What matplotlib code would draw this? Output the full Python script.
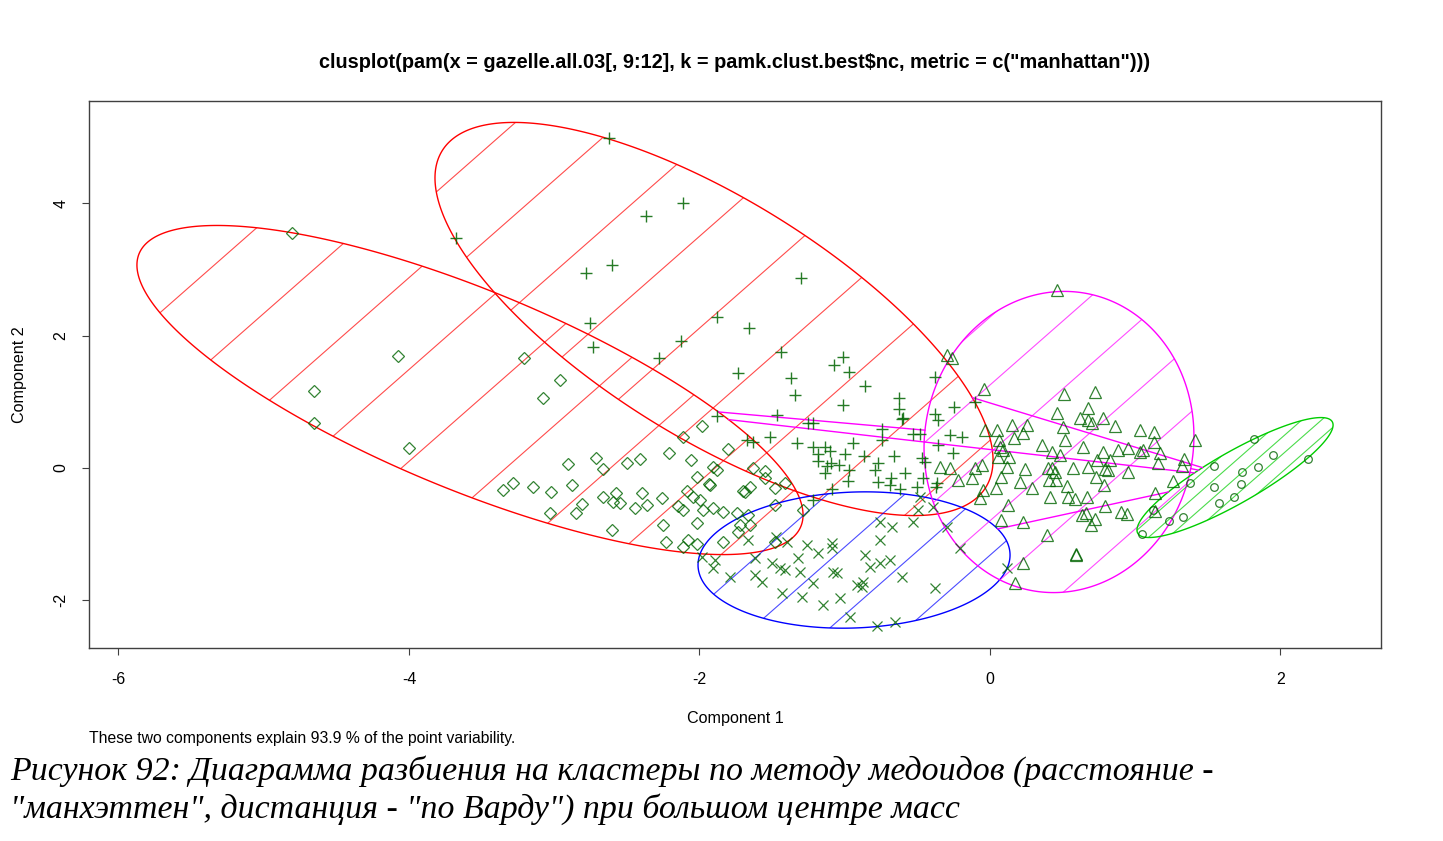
import numpy as np
import matplotlib
matplotlib.use("Agg")
import matplotlib.pyplot as plt
from matplotlib.patches import Polygon

plt.rcParams['font.family'] = ['Liberation Sans', 'DejaVu Sans']
plt.rcParams['axes.unicode_minus'] = False

# cluster ellipses: centre and two conjugate half-axis vectors (data units)
ell_cx = [-3.580, -1.900, -0.936, 0.475, 1.687]
ell_cy = [1.178, 2.251, -1.390, 0.393, -0.144]
ell_ax = [-2.293, -1.921, -1.074, -0.929, -0.675]
ell_ay = [1.888, 2.130, -0.075, -0.091, -0.793]
ell_bx = [0.0, 0.0, 0.0, 0.0, 0.0]
ell_by = [1.617, 2.069, 1.027, 2.273, 0.438]
ell_col = ['#FF0000', '#FF0000', '#0000FF', '#FF00FF', '#00CD00']
hatch_gap = [69, 69, 51, 51, 13]  # pixels between shading lines

# points, cluster 1 (diamonds)
diam_x = [-4.806, -4.654, -4.654, -4.076, -4.000, -3.208, -2.960, -3.077, -1.983, -2.114,
          -2.210, -1.804, -2.059, -1.907, -1.880, -2.905, -2.713, -2.664, -2.499, -2.410,
          -2.017, -1.935, -1.632, -1.549, -1.549, -1.411, -3.353, -3.284, -3.146, -3.022,
          -2.878, -2.664, -2.575, -2.547, -2.396, -3.029, -2.850, -2.809, -2.444, -2.361,
          -2.258, -2.086, -2.045, -1.997, -1.701, -1.652, -2.148, -2.114, -1.976, -1.907,
          -1.838, -2.596, -2.602, -2.251, -2.017, -1.742, -1.721, -1.652, -1.735, -1.838,
          -2.231, -2.079, -2.114, -2.017, -1.928, -1.687, -1.480, -1.480, -1.287, -1.666,
          -1.480]
diam_y = [3.550, 1.163, 0.680, 1.692, 0.302, 1.662, 1.329, 1.057, 0.634, 0.468,
          0.227, 0.287, 0.121, 0.015, -0.030, 0.060, 0.151, -0.015, 0.076, 0.136,
          -0.136, -0.242, 0.000, -0.045, -0.151, -0.227, -0.332, -0.227, -0.287, -0.363,
          -0.257, -0.438, -0.378, -0.529, -0.378, -0.680, -0.680, -0.544, -0.604, -0.559,
          -0.453, -0.347, -0.438, -0.483, -0.347, -0.287, -0.574, -0.634, -0.634, -0.604,
          -0.665, -0.514, -0.937, -0.861, -0.831, -0.680, -0.861, -0.861, -0.967, -1.118,
          -1.118, -1.088, -1.193, -1.148, -0.257, -0.363, -0.302, -0.559, -0.634, -0.710,
          -1.118]

# cluster 2 (plus)
plus_x = [-2.623, -3.676, -2.368, -2.114, -2.781, -2.602, -1.301, -2.754, -2.733, -1.880,
          -1.659, -2.127, -2.279, -1.439, -1.735, -1.370, -1.342, -1.012, -1.074, -0.971,
          -0.861, -1.012, -0.627, -0.627, -0.606, -0.379, -0.248, -0.103, -0.379, -0.358,
          -1.880, -1.466, -1.253, -1.219, -0.744, -0.744, -0.530, -0.482, -1.673, -1.632,
          -1.515, -1.329, -1.219, -1.136, -1.102, -0.943, -0.998, -0.867, -0.661, -0.358,
          -0.275, -0.193, -1.184, -1.184, -1.095, -1.040, -1.122, -1.136, -0.971, -0.978,
          -0.792, -0.771, -0.771, -0.682, -0.688, -0.585, -0.620, -0.503, -0.468, -0.448,
          -0.372, -0.365, -0.255, -1.088, -1.219, -0.599, -0.461]
plus_y = [4.985, 3.474, 3.807, 4.003, 2.946, 3.066, 2.870, 2.190, 1.828, 2.281,
          2.115, 1.918, 1.662, 1.752, 1.435, 1.360, 1.103, 1.677, 1.556, 1.450,
          1.239, 0.952, 1.057, 0.891, 0.740, 1.375, 0.921, 0.997, 0.816, 0.725,
          0.785, 0.801, 0.680, 0.680, 0.589, 0.423, 0.514, 0.514, 0.423, 0.393,
          0.468, 0.378, 0.317, 0.317, 0.257, 0.378, 0.211, 0.181, 0.181, 0.347,
          0.498, 0.468, 0.211, 0.106, 0.076, 0.045, 0.030, -0.076, -0.030, -0.196,
          -0.030, 0.076, -0.211, -0.151, -0.257, -0.076, -0.317, -0.287, 0.151, 0.091,
          -0.287, -0.227, 0.227, -0.317, -0.483, 0.755, -0.151]

# cluster 3 (x)
cross_x = [-1.983, -1.893, -1.907, -1.790, -1.666, -1.618, -1.618, -1.570, -1.501, -1.446,
           -1.411, -1.398, -1.260, -1.322, -1.308, -1.184, -1.088, -1.088, -1.081, -1.053,
           -1.219, -1.432, -1.294, -1.150, -1.033, -0.964, -0.916, -0.874, -0.881, -0.861,
           -0.826, -0.757, -0.688, -0.757, -0.757, -0.675, -0.606, -0.778, -0.654, -0.379,
           -0.207, -0.296, -0.496, -0.392, -0.530, -0.482, 0.117, -1.473]
cross_y = [-1.344, -1.390, -1.511, -1.647, -1.088, -1.360, -1.616, -1.722, -1.435, -1.511,
           -1.541, -1.118, -1.163, -1.360, -1.571, -1.284, -1.133, -1.208, -1.571, -1.586,
           -1.737, -1.888, -1.949, -2.069, -1.964, -2.251, -1.767, -1.722, -1.798, -1.314,
           -1.495, -1.435, -1.390, -1.088, -0.816, -0.891, -1.647, -2.387, -2.326, -1.813,
           -1.208, -0.891, -0.634, -0.589, -0.816, -0.438, -1.511, -1.042]

# cluster 4 (triangles)
tri_x = [0.461, -0.296, -0.262, -0.041, 0.509, 0.723, 0.675, 0.461, 0.620, 0.675,
         0.702, 0.778, 0.861, 1.033, 1.129, 1.129, 1.411, 0.503, -0.034, 0.048,
         0.151, 0.255, 0.227, 0.165, 0.062, 0.069, 0.090, 0.131, 0.055, 0.117,
         0.241, 0.207, 0.289, 0.358, 0.427, 0.482, 0.516, 0.640, 0.778, 0.881,
         0.950, 1.033, 1.053, 1.170, 1.157, 1.336, 1.322, 0.571, 0.675, 0.737,
         0.826, 0.792, 0.812, 0.730, 0.950, 0.427, 0.448, 0.406, 0.454, 0.530,
         0.785, 0.413, 0.537, 0.585, 0.668, 0.124, 0.792, 0.902, 0.943, 0.633,
         0.661, 0.723, 0.695, 1.136, 1.136, 1.260, 0.076, 0.227, 0.392, 0.592,
         0.592, 0.227, 0.172, -0.103, -0.055, -0.124, -0.048, -0.069, 0.041, 0.076,
         -0.344, -0.275, -0.220, 0.399]
tri_y = [2.689, 1.707, 1.662, 1.193, 1.118, 1.148, 0.906, 0.831, 0.755, 0.725,
         0.680, 0.755, 0.634, 0.574, 0.544, 0.393, 0.423, 0.619, 0.574, 0.574,
         0.650, 0.650, 0.529, 0.453, 0.423, 0.317, 0.272, 0.166, 0.166, 0.015,
         -0.015, -0.211, -0.302, 0.347, 0.242, 0.196, 0.423, 0.317, 0.242, 0.272,
         0.302, 0.242, 0.272, 0.227, 0.076, 0.136, 0.030, 0.000, 0.015, 0.121,
         0.121, -0.015, -0.030, -0.136, -0.060, 0.000, -0.060, -0.181, -0.181, -0.272,
         -0.257, -0.438, -0.438, -0.468, -0.438, -0.559, -0.574, -0.665, -0.695, -0.710,
         -0.680, -0.770, -0.861, -0.378, -0.650, -0.196, -0.785, -0.816, -1.012, -1.314,
         -1.300, -1.435, -1.737, 0.000, 0.045, -0.151, -0.332, -0.453, -0.302, -0.136,
         0.015, 0.000, -0.181, 0.000]

# cluster 5 (circles)
circ_x = [1.818, 1.948, 1.845, 1.735, 1.542, 2.189, 1.728, 1.542, 1.680, 1.577,
          1.377, 1.329, 1.232, 1.046, 1.122]
circ_y = [0.438, 0.196, 0.015, -0.060, 0.030, 0.136, -0.242, -0.287, -0.438, -0.529,
          -0.227, -0.740, -0.801, -0.997, -0.634]

title = 'clusplot(pam(x = gazelle.all.03[, 9:12], k = pamk.clust.best$nc, metric = c("manhattan")))'
note = 'These two components explain 93.9 % of the point variability.'
caption1 = 'Рисунок 92: Диаграмма разбиения на кластеры по методу медоидов (расстояние -'
caption2 = '"манхэттен", дистанция - "по Варду") при большом центре масс'

W, H = 1443, 841
fig = plt.figure(figsize=(W / 100, H / 100), dpi=100)
ax_box = [89 / W, 1 - 648 / H, (1381 - 89) / W, (648 - 101) / H]
ax = fig.add_axes(ax_box)
xlim = (-6.203, 2.692)
ylim = (-2.719, 5.544)
ax.set_xlim(*xlim)
ax.set_ylim(*ylim)

# pixel scale, needed for hatch lines at fixed screen angle
px_x = ax_box[2] * W / (xlim[1] - xlim[0])
px_y = ax_box[3] * H / (ylim[1] - ylim[0])
ang = np.radians(41.3)
slope = np.tan(ang) * px_x / px_y

t = np.linspace(0, 2 * np.pi, 400)
for i in range(len(ell_cx)):
    ex = ell_cx[i] + ell_ax[i] * np.cos(t) + ell_bx[i] * np.sin(t)
    ey = ell_cy[i] + ell_ay[i] * np.cos(t) + ell_by[i] * np.sin(t)
    patch = Polygon(np.column_stack([ex, ey]), closed=True, fill=False,
                    edgecolor=ell_col[i], lw=1.0, zorder=2)
    ax.add_patch(patch)
    k = ey - slope * ex
    step = hatch_gap[i] / np.cos(ang) / px_y
    xs = np.array(xlim)
    for kk in np.arange(k.min() + step * 0.5, k.max(), step):
        ln, = ax.plot(xs, slope * xs + kk, color=ell_col[i], lw=0.8, alpha=0.7, zorder=2)
        ln.set_clip_path(patch)

# segments between clusters that are apart
for i in range(len(ell_cx)):
    for j in range(i + 1, len(ell_cx)):
        d = np.array([ell_cx[j] - ell_cx[i], ell_cy[j] - ell_cy[i]])
        Ai = np.array([[ell_ax[i], ell_bx[i]], [ell_ay[i], ell_by[i]]])
        Aj = np.array([[ell_ax[j], ell_bx[j]], [ell_ay[j], ell_by[j]]])
        si = 1 / np.linalg.norm(np.linalg.solve(Ai, d))
        sj = 1 / np.linalg.norm(np.linalg.solve(Aj, d))
        if si + sj < 1:
            p0 = np.array([ell_cx[i], ell_cy[i]]) + si * d
            p1 = np.array([ell_cx[j], ell_cy[j]]) - sj * d
            ax.plot([p0[0], p1[0]], [p0[1], p1[1]], color='#FF00FF', lw=1.0, zorder=2)

pc = '#006400'
ax.plot(diam_x, diam_y, 'D', ms=6.5, mfc='none', mec=pc, mew=0.9, alpha=0.8, zorder=3)
ax.plot(plus_x, plus_y, '+', ms=9, mec=pc, mew=1.0, alpha=0.85, zorder=3)
ax.plot(cross_x, cross_y, 'x', ms=7, mec=pc, mew=0.9, alpha=0.8, zorder=3)
ax.plot(tri_x, tri_y, '^', ms=8, mfc='none', mec=pc, mew=0.9, alpha=0.8, zorder=3)
ax.plot(circ_x, circ_y, 'o', ms=5.5, mfc='none', mec=pc, mew=0.9, alpha=0.8, zorder=3)

for s in ax.spines.values():
    s.set_color('#404040')
    s.set_linewidth(1.0)
ax.set_xticks([-6, -4, -2, 0, 2])
ax.set_yticks([-2, 0, 2, 4])
ax.tick_params(direction='out', length=5, width=0.8, color='#404040', labelsize=11.5, pad=12)
ax.tick_params(axis='y', pad=10)
for lab in ax.get_yticklabels():
    lab.set_rotation(90)
    lab.set_va('center')

cx = (89 + 1381) / 2 / W
fig.text(cx, 1 - 62 / H, title, ha='center', va='center', fontsize=14.3, weight='bold')
fig.text(cx, 1 - 719 / H, 'Component 1', ha='center', va='center', fontsize=11.6)
fig.text(20 / W, 1 - 375 / H, 'Component 2', ha='center', va='center', rotation=90, fontsize=11.6)
fig.text(89 / W, 1 - 739 / H, note, ha='left', va='center', fontsize=11.3)
fig.text(10 / W, 1 - 771 / H, caption1, ha='left', va='center', fontsize=24.4,
         family=['Liberation Serif', 'DejaVu Serif'], style='italic')
fig.text(10 / W, 1 - 809 / H, caption2, ha='left', va='center', fontsize=24.4,
         family=['Liberation Serif', 'DejaVu Serif'], style='italic')

fig.savefig('out.png', dpi=100)
